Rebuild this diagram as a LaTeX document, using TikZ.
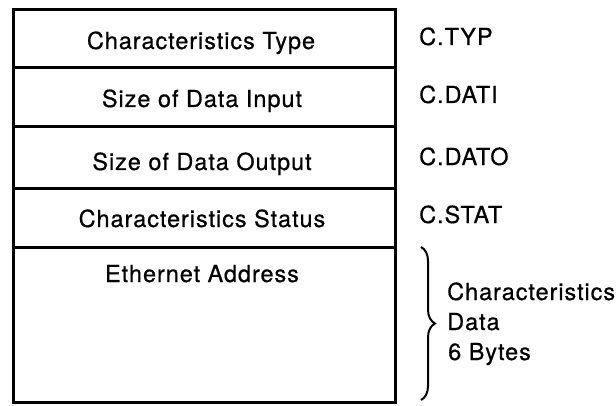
\documentclass[tikz,border=0pt]{standalone}
\usepackage{fontspec}
\setmainfont{TeX Gyre Heros}[LetterSpace=4,FakeBold=0.6]
\usetikzlibrary{decorations.pathreplacing}
\begin{document}
\begin{tikzpicture}[x=1pt,y=1pt,
  rowbox/.style={draw, line width=3pt, minimum width=382pt, inner sep=0pt, outer sep=0pt},
  txt/.style={anchor=base, inner sep=0pt, font=\fontsize{23.5}{27}\selectfont},
  lbl/.style={anchor=base west, inner sep=0pt, font=\fontsize{23.5}{27}\selectfont}]
\useasboundingbox (0,0) rectangle (616,405);
\node[rowbox, minimum height=155pt] (r5) at (204,80.5) {};
\node[rowbox, minimum height=58pt] (r4) at (204,187) {};
\node[rowbox, minimum height=62pt] (r3) at (204,247) {};
\node[rowbox, minimum height=59pt] (r2) at (204,307.5) {};
\node[rowbox, minimum height=58pt] (r1) at (204,366) {};
\node[txt] (t1) at (201,356) {Characteristics Type};
\node[txt] (t2) at (202,298) {Size of Data Input};
\node[txt] (t3) at (202,235) {Size of Data Output};
\node[txt] (t4) at (202,178) {Characteristics Status};
\node[txt] (t5) at (202,123) {Ethernet Address};
\node[lbl] (l1) at (419,360) {C.TYP};
\node[lbl] (l2) at (419,302) {C.DATI};
\node[lbl] (l3) at (419,240) {C.DATO};
\node[lbl] (l4) at (419,182) {C.STAT};
\node[lbl] (d1) at (447,105) {Characteristics};
\node[lbl] (d2) at (447,75) {Data};
\node[lbl] (d3) at (448,45) {6 Bytes};
\coordinate (bt) at (421,158);
\coordinate (bb) at (421,5);
\draw[line width=2pt, decorate, decoration={brace, amplitude=14pt}] (bt) -- (bb);
\end{tikzpicture}
\end{document}
